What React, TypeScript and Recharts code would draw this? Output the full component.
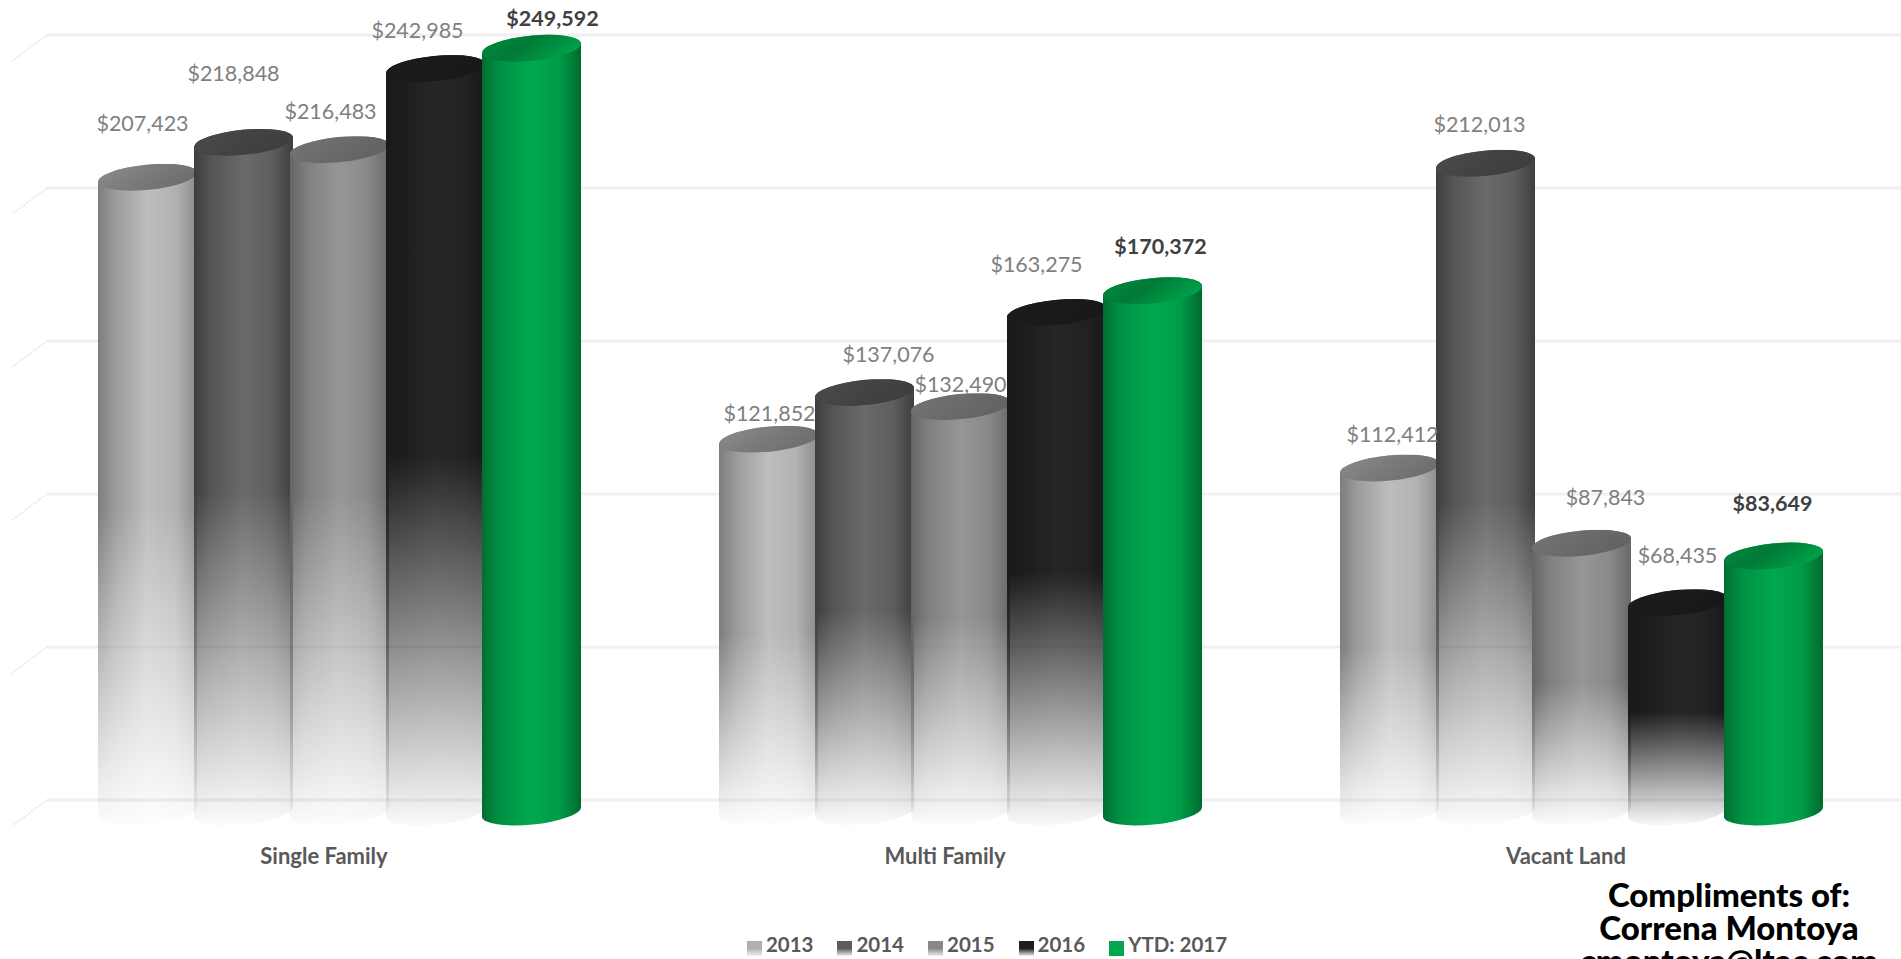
import { Bar, BarChart, CartesianGrid, LabelList, Legend, XAxis, YAxis } from 'recharts'

const categories = ['Single Family', 'Multi Family', 'Vacant Land']
const values2013 = [207423, 121852, 112412]
const values2014 = [218848, 137076, 212013]
const values2015 = [216483, 132490, 87843]
const values2016 = [242985, 163275, 68435]
const valuesYtd = [249592, 170372, 83649]
const gridTicks = [0, 50000, 100000, 150000, 200000, 250000]

const chartData = categories.map((name, i) => ({
  name,
  y2013: values2013[i],
  y2014: values2014[i],
  y2015: values2015[i],
  y2016: values2016[i],
  ytd: valuesYtd[i],
}))

type Look = {
  key: string
  name: string
  swatch: string
  side: string[]
  top: string[]
  fades: boolean
  labelColor: string
  labelBold: boolean
  // label shift from the cylinder's top centre, one [dx, dy] per category
  nudges: number[][]
}

const looks: Look[] = [
  {
    key: 'y2013',
    name: '2013',
    swatch: '#b0b0b0',
    side: ['#7d7d7d', '#9c9c9c', '#bdbdbd', '#b2b2b2', '#8c8c8c'],
    top: ['#8e8e8e', '#7c7c7c', '#6e6e6e'],
    fades: true,
    labelColor: '#7f7f7f',
    labelBold: false,
    nudges: [[-5, -54], [1, -26], [3, -34]],
  },
  {
    key: 'y2014',
    name: '2014',
    swatch: '#5c5c5c',
    side: ['#3e3e3e', '#555555', '#6a6a6a', '#5e5e5e', '#3f3f3f'],
    top: ['#4d4d4d', '#444444', '#3e3e3e'],
    fades: true,
    labelColor: '#7f7f7f',
    labelBold: false,
    nudges: [[-10, -69], [24, -39], [-6, -39]],
  },
  {
    key: 'y2015',
    name: '2015',
    swatch: '#888888',
    side: ['#656565', '#808080', '#969696', '#8a8a8a', '#696969'],
    top: ['#757575', '#6c6c6c', '#626262'],
    fades: true,
    labelColor: '#7f7f7f',
    labelBold: false,
    nudges: [[-9, -39], [0, -23], [24, -46]],
  },
  {
    key: 'y2016',
    name: '2016',
    swatch: '#1f1f1f',
    side: ['#191919', '#1d1d1d', '#262626', '#222222', '#191919'],
    top: ['#1c1c1c', '#1a1a1a', '#181818'],
    fades: true,
    labelColor: '#7f7f7f',
    labelBold: false,
    nudges: [[-18, -38], [-20, -48], [0, -48]],
  },
  {
    key: 'ytd',
    name: 'YTD: 2017',
    swatch: '#00a650',
    side: ['#006f30', '#009144', '#00a84f', '#009c49', '#006a2d'],
    top: ['#008c40', '#007a35', '#00a04a'],
    fades: false,
    labelColor: '#404040',
    labelBold: true,
    nudges: [[21, -30], [8, -45], [-1, -53]],
  },
]

const FONT = 'Lato, sans-serif'
const TILT = 5.7
const RX_PAD = 1.5
const RY = 12.5
// the wall grid sits behind the cylinders' centre plane
const GRID_LIFT = 12

function Cylinder(props: any, look: Look) {
  const { x, y, width, height } = props
  const rx = width / 2 + RX_PAD
  const cx = x + width / 2
  const dy = rx * Math.sin((TILT * Math.PI) / 180)
  const left = cx - rx
  const right = cx + rx
  const base = y + height
  const arc = `A ${rx} ${RY} ${-TILT} 0`
  const body =
    `M ${left} ${y + dy} L ${left} ${base + dy} ` +
    `${arc} 0 ${right} ${base - dy} L ${right} ${y - dy} ` +
    `${arc} 0 ${left} ${y + dy} Z`
  const cap = `M ${left} ${y + dy} ${arc} 1 ${right} ${y - dy} ${arc} 1 ${left} ${y + dy} Z`
  return (
    <g mask={look.fades ? 'url(#fadeMask)' : undefined}>
      <path d={body} fill={`url(#side-${look.key})`} />
      <path d={cap} fill={`url(#top-${look.key})`} />
    </g>
  )
}

function valueLabel(look: Look) {
  return (props: any) => {
    const { x, y, width, value, index } = props
    const [dx, dy] = look.nudges[index]
    return (
      <text
        x={x + width / 2 + dx}
        y={y + dy}
        textAnchor='middle'
        dominantBaseline='central'
        fontFamily={FONT}
        fontSize={21.5}
        fontWeight={look.labelBold ? 700 : 400}
        fill={look.labelColor}
      >
        {'$' + Number(value).toLocaleString('en-US')}
      </text>
    )
  }
}

function CategoryTick({ x, y, payload }: any) {
  return (
    <text
      x={x - 15}
      y={y}
      textAnchor='middle'
      dominantBaseline='central'
      fontFamily={FONT}
      fontSize={22}
      fontWeight={700}
      fill='#595959'
    >
      {payload.value}
    </text>
  )
}

function WallLine({ x1, x2, y1 }: any) {
  const y = y1 - GRID_LIFT
  const x = x1 + 18.5
  return (
    <g>
      <line x1={x} x2={x2 + 10} y1={y} y2={y} stroke='#f0f0f0' strokeWidth={3} />
      <line x1={x} x2={x - 35} y1={y} y2={y + 26} stroke='#e8e8e8' strokeWidth={1.5} strokeDasharray='2 1' />
    </g>
  )
}

export default function App() {
  return (
    <div style={{ position: 'absolute', left: 0, top: 0, width: 1901, height: 959, overflow: 'hidden', background: '#fff' }}>
      <BarChart
        width={1901}
        height={959}
        data={chartData}
        barSize={96}
        barGap={0}
        margin={{ top: 47, right: 9.5, bottom: 117, left: 28.5 }}
      >
        <defs>
          <linearGradient id='fadeGradient' x1='0' y1='0' x2='0' y2='1'>
            <stop offset='0.52' stopColor='#fff' />
            <stop offset='1' stopColor='#060606' />
          </linearGradient>
          <mask id='fadeMask' maskContentUnits='objectBoundingBox'>
            <rect x='0' y='0' width='1' height='1' fill='url(#fadeGradient)' />
          </mask>
          {looks.map(look => (
            <linearGradient key={look.key} id={`side-${look.key}`} x1='0' y1='0' x2='1' y2='0'>
              {look.side.map((color, i) => (
                <stop key={i} offset={[0, 0.18, 0.5, 0.78, 1][i]} stopColor={color} />
              ))}
            </linearGradient>
          ))}
          {looks.map(look => (
            <linearGradient key={look.key} id={`top-${look.key}`} x1='0' y1='0' x2='1' y2='0.4'>
              {look.top.map((color, i) => (
                <stop key={i} offset={i / 2} stopColor={color} />
              ))}
            </linearGradient>
          ))}
          {looks.map(look => (
            <linearGradient key={look.key} id={`swatch-${look.key}`} x1='0' y1='0' x2='0' y2='1'>
              <stop offset='0.5' stopColor={look.swatch} />
              <stop offset='1' stopColor={look.fades ? '#f0f0f0' : look.swatch} />
            </linearGradient>
          ))}
        </defs>
        <CartesianGrid vertical={false} horizontal={WallLine} />
        <XAxis
          dataKey='name'
          axisLine={false}
          tickLine={false}
          height={30}
          tickMargin={37}
          interval={0}
          tick={CategoryTick}
        />
        <YAxis hide domain={[0, 250000]} ticks={gridTicks} />
        <Legend
          layout='horizontal'
          align='center'
          verticalAlign='middle'
          iconType='square'
          iconSize={15}
          wrapperStyle={{ left: 739, top: 932, width: 520 }}
          formatter={value => (
            <span style={{ color: '#595959', fontFamily: FONT, fontSize: 20.5, fontWeight: 700, marginRight: 14 }}>{value}</span>
          )}
        />
        {looks.map(look => (
          <Bar
            key={look.key}
            dataKey={look.key}
            name={look.name}
            fill={`url(#swatch-${look.key})`}
            isAnimationActive={false}
            shape={(props: any) => Cylinder(props, look)}
          >
            <LabelList dataKey={look.key} content={valueLabel(look)} />
          </Bar>
        ))}
      </BarChart>
      <div
        style={{
          position: 'absolute',
          left: 1560,
          top: 878,
          width: 338,
          textAlign: 'center',
          fontFamily: FONT,
          fontSize: 33,
          fontWeight: 900,
          lineHeight: '33px',
          color: '#000',
        }}
      >
        <div>Compliments of:</div>
        <div>Correna Montoya</div>
        <div>cmontoya@ltac.com</div>
      </div>
    </div>
  )
}
